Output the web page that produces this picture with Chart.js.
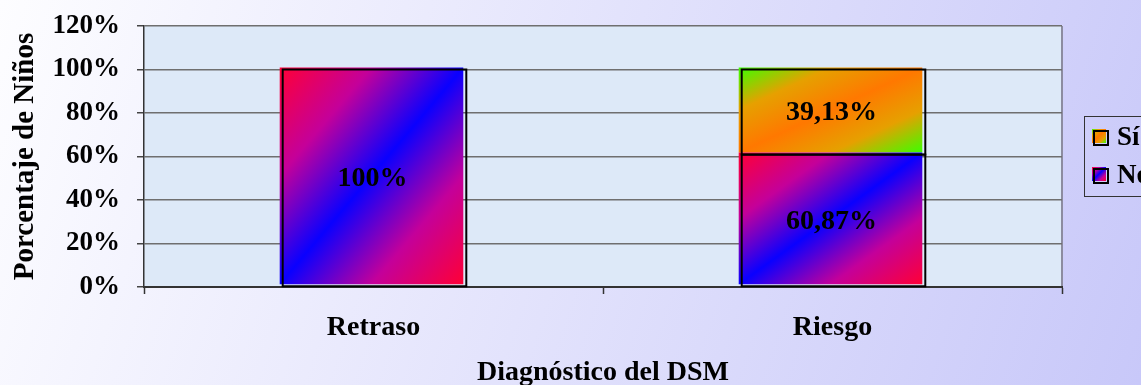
<!DOCTYPE html>
<html>
<head>
<meta charset="utf-8">
<script src="https://cdn.jsdelivr.net/npm/chart.js@4/dist/chart.umd.min.js"></script>
<style>
  html, body { margin: 0; padding: 0; overflow: hidden; background: #e4e4fb; }
  #wrap { width: 1141px; height: 385px; }
</style>
</head>
<body>
<div id="wrap"><canvas id="c" width="1141" height="385"></canvas></div>
<script>
// Diagnosis categories and the share of children per answer (stacked to 100%)
const categories = ['Retraso', 'Riesgo'];
const noValues = [100, 60.87];
const siValues = [0, 39.13];
const seriesLabels = ['No', 'Sí'];
const yTickValues = [0, 20, 40, 60, 80, 100, 120];
const yTitle = 'Porcentaje de Niños';
const xTitle = 'Diagnóstico del DSM';

const FONT = "'Liberation Serif', 'Times New Roman', serif";

// colour stops of each series' diagonal gradient (edge -> middle -> edge)
const seriesGradients = [
  ['#ff0036', '#c4009a', '#0a00ff'],   // No
  ['#3cff00', '#e6a000', '#ff7800']    // Sí
];

function diagGradient(ctx, left, top, w, h, stops) {
  const cx = left + w / 2, cy = top + h / 2;
  const k = (w * h) / (w * w + h * h);
  const g = ctx.createLinearGradient(cx - h * k, cy - w * k, cx + h * k, cy + w * k);
  g.addColorStop(0, stops[0]);
  g.addColorStop(0.25, stops[1]);
  g.addColorStop(0.5, stops[2]);
  g.addColorStop(0.75, stops[1]);
  g.addColorStop(1, stops[0]);
  return g;
}

function fmtPct(v) {
  return Number.isInteger(v) ? v + '%' : v.toFixed(2).replace('.', ',') + '%';
}

const decor = {
  id: 'decor',
  beforeDraw(chart) {
    const { ctx, width, height, chartArea: a } = chart;
    ctx.save();
    const bg = ctx.createLinearGradient(0, 0, width, height);
    bg.addColorStop(0, '#fdfdff');
    bg.addColorStop(1, '#c8c8f9');
    ctx.fillStyle = bg;
    ctx.fillRect(0, 0, width, height);
    ctx.fillStyle = '#dde9f8';
    ctx.fillRect(a.left, a.top, a.right - a.left, a.bottom - a.top);
    ctx.strokeStyle = '#8c8ca0';
    ctx.lineWidth = 2;
    ctx.beginPath();
    ctx.moveTo(a.right, a.top);
    ctx.lineTo(a.right, a.bottom);
    ctx.stroke();
    ctx.restore();
  },
  beforeDatasetsDraw(chart) {
    const ctx = chart.ctx;
    chart.data.datasets.forEach((ds, di) => {
      chart.getDatasetMeta(di).data.forEach(el => {
        const top = Math.min(el.y, el.base), h = Math.abs(el.base - el.y);
        const left = el.x - el.width / 2;
        if (h <= 0) return;
        el.options = Object.assign({}, el.options, {
          backgroundColor: diagGradient(ctx, left, top, el.width, h, seriesGradients[di])
        });
      });
    });
    ctx.save();
    ctx.translate(-2, -2);
  },
  afterDatasetsDraw(chart) {
    const ctx = chart.ctx;
    ctx.restore();
    ctx.save();
    ctx.strokeStyle = '#000';
    ctx.lineWidth = 2;
    chart.data.datasets.forEach((ds, di) => {
      chart.getDatasetMeta(di).data.forEach((el, i) => {
        if (!ds.data[i]) return;
        const top = Math.min(el.y, el.base), h = Math.abs(el.base - el.y);
        ctx.strokeRect(el.x - el.width / 2 + 1, top, el.width, h);
      });
    });
    ctx.fillStyle = '#000';
    ctx.font = 'bold 28px ' + FONT;
    ctx.textAlign = 'center';
    ctx.textBaseline = 'middle';
    chart.data.datasets.forEach((ds, di) => {
      chart.getDatasetMeta(di).data.forEach((el, i) => {
        const v = ds.data[i];
        if (!v) return;
        ctx.fillText(fmtPct(v), el.x - 1, (el.y + el.base) / 2 + 1);
      });
    });
    ctx.restore();
  },
  afterDraw(chart) {
    const { ctx, chartArea: a } = chart;
    const bx = a.right + 22, by = 116, bw = 120, bh = 80;
    ctx.save();
    ctx.strokeStyle = '#333';
    ctx.lineWidth = 1;
    ctx.strokeRect(bx + 0.5, by + 0.5, bw, bh);
    // legend lists the top series first
    const order = [1, 0];
    order.forEach((di, row) => {
      const cy = by + 21 + row * 38;
      const ix = bx + 8, iy = cy - 8, s = 14;
      ctx.fillStyle = diagGradient(ctx, ix, iy, s, s, seriesGradients[di]);
      ctx.fillRect(ix, iy, s, s);
      ctx.strokeStyle = '#000';
      ctx.lineWidth = 2;
      ctx.strokeRect(ix + 2, iy + 2, s, s);
      ctx.fillStyle = '#000';
      ctx.font = 'bold 27px ' + FONT;
      ctx.textAlign = 'left';
      ctx.textBaseline = 'middle';
      ctx.fillText(chart.data.datasets[di].label, ix + 25, cy + 1);
    });
    ctx.restore();
  }
};

new Chart(document.getElementById('c'), {
  type: 'bar',
  data: {
    labels: categories,
    datasets: [
      { label: seriesLabels[0], data: noValues, borderWidth: 0 },
      { label: seriesLabels[1], data: siValues, borderWidth: 0 }
    ]
  },
  options: {
    responsive: false,
    animation: false,
    devicePixelRatio: 1,
    events: [],
    layout: { padding: { top: 26, right: 79, bottom: 0, left: 0 } },
    datasets: { bar: { categoryPercentage: 1, barPercentage: 0.4 } },
    plugins: { legend: { display: false }, tooltip: { enabled: false } },
    scales: {
      x: {
        stacked: true,
        afterFit: s => { s.height = 98; s.paddingLeft = 0; s.paddingRight = 0; },
        grid: { display: true, drawOnChartArea: false, drawTicks: true, tickLength: 7, offset: true, tickColor: '#333', tickWidth: 1.5 },
        border: { display: true, color: '#333', width: 2 },
        ticks: { color: '#000', padding: 17, font: { family: FONT, size: 28, weight: 'bold' } },
        title: { display: true, text: xTitle, color: '#000', padding: { top: 0, bottom: -2 },
                 font: { family: FONT, size: 28, weight: 'bold', lineHeight: 1 } }
      },
      y: {
        stacked: true,
        min: 0,
        max: 120,
        afterFit: s => { s.width = 144; s.paddingTop = 0; s.paddingBottom = 0; },
        afterBuildTicks: s => { s.ticks = yTickValues.map(v => ({ value: v })); },
        grid: { color: '#6f6f6f', lineWidth: 1.5, tickLength: 7, tickColor: '#444' },
        border: { display: true, color: '#333', width: 1.5 },
        ticks: { color: '#000', padding: 17, callback: v => v + '%',
                 font: { family: FONT, size: 27, weight: 'bold' } },
        title: { display: true, text: yTitle, color: '#000', padding: { top: 8, bottom: 0 },
                 font: { family: FONT, size: 29, weight: 'bold' } }
      }
    }
  },
  plugins: [decor]
});
</script>
</body>
</html>
